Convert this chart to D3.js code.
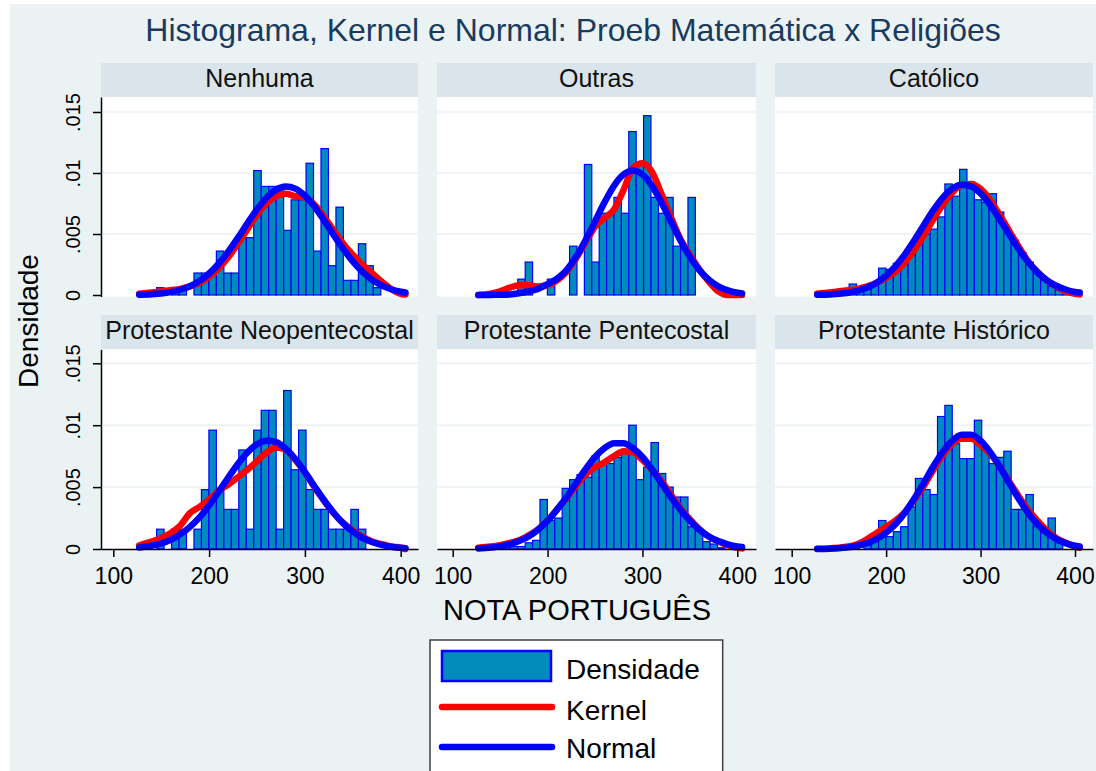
<!DOCTYPE html>
<html><head><meta charset="utf-8">
<script src="https://cdn.jsdelivr.net/npm/d3@7"></script>
<style>
body{margin:0;background:#fff}
svg{display:block}
text{font-family:"Liberation Sans",Arial,sans-serif}
</style>
</head><body>
<svg id="c" width="1096" height="771"></svg>
<script>
// ---------------- DATA ----------------
const chartTitle = "Histograma, Kernel e Normal: Proeb Matemática x Religiões";
const xTitle = "NOTA PORTUGUÊS";
const yTitle = "Densidade";
const panelNames = ["Nenhuma","Outras","Católico","Protestante Neopentecostal","Protestante Pentecostal","Protestante Histórico"];
const legendLabels = ["Densidade","Kernel","Normal"];
const xTicks = [100,200,300,400];
const yTicks = [0,0.005,0.01,0.015];
const yTickLabels = ["0",".005",".01",".015"];
const binStart = 129.6, binWidth = 7.8;

// histogram densities per bin (35 bins)
const histNenhuma = [0,0,.0006,0,.0006,.0006,0,.0018,.0018,.0018,.0036,.0018,.0018,.0047,.0047,.0102,.0089,.0089,.0089,.0053,.0078,.0078,.0108,.0036,.0120,.0024,.0072,.0012,.0012,.0042,.0024,.0006,0,0,0];
const histOutras = [0,0,0,0,0,.0013,.0027,0,0,.0013,0,0,.0040,0,.0107,.0027,.0067,.0067,.0080,.0067,.0134,.0107,.0147,.0080,.0067,.0080,.0040,.0040,.0080,0,0,0,0,0,0];
const histCatolico = [0,0,0,.0002,.0009,.0006,.0008,.0010,.0022,.0021,.0026,.0032,.0037,.0042,.0050,.0054,.0064,.0091,.0081,.0103,.0093,.0078,.0076,.0083,.0068,.0053,.0045,.0035,.0027,.0019,.0012,.0007,.0004,.0002,0];
const histNeopent = [0,0,.0016,0,.0016,.0016,0,.0016,.0048,.0096,.0048,.0032,.0032,.0080,.0016,.0096,.0112,.0112,.0016,.0128,.0064,.0096,.0048,.0032,.0032,.0016,.0016,.0016,.0032,.0016,0,0,0,0,0];
const histPentec = [0,0,.0003,.0003,.0002,.0002,.0005,.0007,.0040,.0023,.0025,.0049,.0056,.0060,.0058,.0075,.0070,.0069,.0074,.0077,.0100,.0056,.0066,.0086,.0061,.0050,.0042,.0042,.0018,.0015,.0006,.0004,.0001,0,0];
const histHistorico = [0,0,0,0,0,0,.0003,.0007,.0023,.0010,.0014,.0018,.0034,.0057,.0048,.0044,.0107,.0116,.0085,.0073,.0073,.0104,.0082,.0069,.0074,.0079,.0032,.0032,.0044,.0018,.0015,.0025,.0005,0,0];

// curve sample positions (NOTA)
const curveX = [127,140,150,160,170,180,190,200,210,220,230,240,250,260,270,280,290,300,310,320,330,340,350,360,370,380,390,400,405];

const kernelNenhuma = [.0001,.0002,.0003,.0004,.0005,.0007,.0010,.0015,.0022,.0031,.0042,.0054,.0066,.0075,.0081,.0083,.0081,.0080,.0074,.0064,.0053,.0042,.0033,.0025,.0018,.0011,.0005,.0001,.00005];
const normalNenhuma = [.00003,.00007,.00013,.00024,.00043,.00072,.00116,.00176,.00256,.00355,.00468,.00588,.00702,.00798,.00864,.0089,.00872,.00814,.00723,.00612,.00492,.00377,.00275,.00191,.00125,.00079,.00047,.00027,.0002];

const kernelOutras = [0,.0001,.0003,.0006,.0008,.0008,.0007,.0008,.0012,.0019,.0030,.0043,.0056,.0063,.0070,.0086,.0104,.0108,.0101,.0083,.0064,.0046,.0033,.0021,.0011,.0003,0,0,0];
const normalOutras = [0,.00001,.00002,.00005,.00015,.0003,.0005,.0009,.00135,.00204,.00313,.00449,.00603,.00759,.00895,.00987,.0102,.00987,.00895,.00759,.00603,.00449,.00313,.00204,.00125,.00071,.00038,.00019,.00013];

const kernelCatolico = [.0001,.0002,.0003,.0004,.0005,.0007,.0010,.0014,.0019,.0027,.0037,.0049,.0062,.0074,.0084,.0090,.0091,.0087,.0078,.0066,.0053,.0040,.0028,.0019,.0012,.0007,.0003,.0001,.00005];
const normalCatolico = [.00002,.00005,.0001,.00019,.00035,.00061,.00101,.0016,.00237,.00335,.0045,.00574,.00695,.00799,.00872,.00904,.0089,.00833,.0074,.00623,.005,.0038,.00274,.00188,.00122,.00076,.00045,.00025,.0002];

const kernelNeopent = [.0003,.0006,.0009,.0013,.0019,.0029,.0034,.0040,.0047,.0052,.0058,.0064,.0071,.0078,.0082,.0080,.0072,.0062,.0050,.0039,.0029,.0021,.0015,.0010,.0006,.0004,.0002,.0001,0];
const normalNeopent = [.00012,.00026,.00045,.00075,.00118,.00179,.00255,.00352,.00462,.00577,.00687,.0078,.00846,.00874,.00863,.0081,.00727,.0062,.00507,.00394,.00293,.00207,.0014,.0009,.00056,.00033,.00018,.0001,.00007];

const kernelPentec = [.0001,.0002,.0003,.0005,.0007,.0011,.0016,.0023,.0032,.0041,.0051,.0060,.0066,.0070,.0075,.0079,.0078,.0072,.0064,.0055,.0044,.0033,.0024,.0016,.0010,.0006,.0003,.0001,.00005];
const normalPentec = [.00005,.00012,.00021,.00038,.00064,.00101,.00155,.00228,.00318,.00419,.00532,.00644,.00743,.00815,.00855,.00855,.00815,.00743,.00644,.00532,.00419,.00318,.00228,.00155,.00101,.00064,.00038,.00021,.00016];

const kernelHistorico = [.00002,.00005,.0001,.0002,.0004,.0008,.0013,.0018,.0023,.0030,.0040,.0051,.0064,.0076,.0085,.0089,.0089,.0084,.0077,.0067,.0055,.0043,.0032,.0023,.0015,.0009,.0005,.0002,.0001];
const normalHistorico = [.00001,.00003,.00007,.00013,.00026,.00047,.00081,.00132,.00202,.00295,.0041,.00537,.00669,.00785,.00875,.00923,.00923,.00875,.00785,.00669,.00537,.0041,.00295,.00202,.00132,.00081,.00047,.00026,.0002];

const histAll = [histNenhuma,histOutras,histCatolico,histNeopent,histPentec,histHistorico];
const kernelAll = [kernelNenhuma,kernelOutras,kernelCatolico,kernelNeopent,kernelPentec,kernelHistorico];
const normalAll = [normalNenhuma,normalOutras,normalCatolico,normalNeopent,normalPentec,normalHistorico];

// ---------------- LAYOUT ----------------
const C = {bg:"#EAF2F3", strip:"#D9E5EA", grid:"#EAF2F3", bar:"#008BBC", barLine:"#0000FF", red:"#FF0000", blue:"#0000FF", title:"#1A3A5E"};
const cols = [
  {left:101,right:418,x100:113.3,x400:400.7},
  {left:437,right:756,x100:452.7,x400:737.3},
  {left:775,right:1093,x100:791.7,x400:1075}
];
const rows = [
  {stripTop:63,stripBot:97,plotBot:296.5,y0:295,y015:112},
  {stripTop:315,stripBot:349.3,plotBot:549.5,y0:549,y015:363.3}
];

const svg = d3.select("#c");
svg.append("rect").attr("x",10).attr("y",4).attr("width",1086).attr("height",767).attr("fill",C.bg);

svg.append("text").attr("x",573).attr("y",41).attr("text-anchor","middle")
  .attr("font-size",32).attr("fill",C.title).text(chartTitle);

panelNames.forEach((name,i)=>{
  const col = cols[i%3], row = rows[Math.floor(i/3)];
  const x = d3.scaleLinear().domain([100,400]).range([col.x100,col.x400]);
  const y = d3.scaleLinear().domain([0,0.015]).range([row.y0,row.y015]);
  const g = svg.append("g");
  // strip
  g.append("rect").attr("x",col.left).attr("y",row.stripTop).attr("width",col.right-col.left)
    .attr("height",row.stripBot-row.stripTop).attr("fill",C.strip);
  g.append("text").attr("x",(col.left+col.right)/2).attr("y",row.stripBot-10.5)
    .attr("text-anchor","middle").attr("font-size",25).attr("fill","#111").text(name);
  // plot area
  g.append("rect").attr("x",col.left).attr("y",row.stripBot).attr("width",col.right-col.left)
    .attr("height",row.plotBot-row.stripBot).attr("fill","#fff");
  // grid
  g.selectAll(".grid").data(yTicks.filter(d=>d>0)).join("line")
    .attr("x1",col.left).attr("x2",col.right).attr("y1",d=>y(d)).attr("y2",d=>y(d))
    .attr("stroke",C.grid).attr("stroke-width",1.5);
  // bars
  const bins = histAll[i].map((v,k)=>({x0:binStart+k*binWidth,x1:binStart+(k+1)*binWidth,v})).filter(d=>d.v>0);
  g.selectAll(".bar").data(bins).join("rect")
    .attr("x",d=>x(d.x0)).attr("width",d=>x(d.x1)-x(d.x0))
    .attr("y",d=>y(d.v)).attr("height",d=>y(0)-y(d.v))
    .attr("fill",C.bar).attr("stroke",C.barLine).attr("stroke-width",1.2);
  const line = d3.line().x(d=>x(d[0])).y(d=>y(d[1])).curve(d3.curveMonotoneX);
  g.append("path").attr("d",line(curveX.map((cx,j)=>[cx,kernelAll[i][j]])))
    .attr("fill","none").attr("stroke",C.red).attr("stroke-width",6.5)
    .attr("stroke-linecap","round").attr("stroke-linejoin","round");
  g.append("path").attr("d",line(curveX.map((cx,j)=>[cx,normalAll[i][j]])))
    .attr("fill","none").attr("stroke",C.blue).attr("stroke-width",6.5)
    .attr("stroke-linecap","round").attr("stroke-linejoin","round");
  // y axis (first column)
  if(i%3===0){
    const yFull = y.copy().domain([y.invert(row.plotBot),y.invert(row.stripBot)]).range([row.plotBot,row.stripBot]);
    const ya = g.append("g").attr("transform",`translate(${col.left},0)`)
      .call(d3.axisLeft(yFull).tickValues(yTicks).tickSize(8).tickSizeOuter(0).tickFormat((d,j)=>yTickLabels[j]));
    ya.select(".domain").attr("stroke","#000").attr("stroke-width",1.5);
    ya.selectAll(".tick line").attr("stroke","#000").attr("stroke-width",1.5);
    ya.selectAll(".tick text").attr("x",null).attr("dy",null)
      .attr("transform","translate(-21,0) rotate(-90)").attr("text-anchor","middle")
      .attr("font-size",20).attr("font-family","Liberation Sans, Arial, sans-serif").attr("fill","#000");
  }
  // x axis (bottom row)
  if(i>=3){
    const xFull = x.copy().domain([x.invert(col.left),x.invert(col.right)]).range([col.left,col.right]);
    const xa = g.append("g").attr("transform",`translate(0,${row.y0})`)
      .call(d3.axisBottom(xFull).tickValues(xTicks).tickSize(8).tickSizeOuter(0).tickPadding(5));
    xa.select(".domain").attr("stroke","#000").attr("stroke-width",1.5);
    xa.selectAll(".tick line").attr("stroke","#000").attr("stroke-width",1.5);
    xa.selectAll(".tick text").attr("dy",null).attr("y",35)
      .attr("font-size",23).attr("font-family","Liberation Sans, Arial, sans-serif").attr("fill","#000");
  }
});

// axis titles
svg.append("text").attr("transform","translate(38,321) rotate(-90)").attr("text-anchor","middle")
  .attr("font-size",28).attr("fill","#000").text(yTitle);
svg.append("text").attr("x",577).attr("y",620).attr("text-anchor","middle")
  .attr("font-size",29).attr("fill","#000").text(xTitle);

// legend
const lg = svg.append("g");
lg.append("rect").attr("x",430).attr("y",640).attr("width",292.7).attr("height",140)
  .attr("fill","#fff").attr("stroke","#404040").attr("stroke-width",1.5);
lg.append("rect").attr("x",442).attr("y",651).attr("width",109).attr("height",30)
  .attr("fill",C.bar).attr("stroke",C.barLine).attr("stroke-width",2.5);
lg.append("line").attr("x1",442).attr("x2",552).attr("y1",707).attr("y2",707)
  .attr("stroke",C.red).attr("stroke-width",6.5).attr("stroke-linecap","round");
lg.append("line").attr("x1",442).attr("x2",552).attr("y1",747).attr("y2",747)
  .attr("stroke",C.blue).attr("stroke-width",6.5).attr("stroke-linecap","round");
const ly = [679,720,758];
legendLabels.forEach((t,j)=>{
  lg.append("text").attr("x",566).attr("y",ly[j]).attr("font-size",28).attr("fill","#000").text(t);
});
</script>
</body></html>
